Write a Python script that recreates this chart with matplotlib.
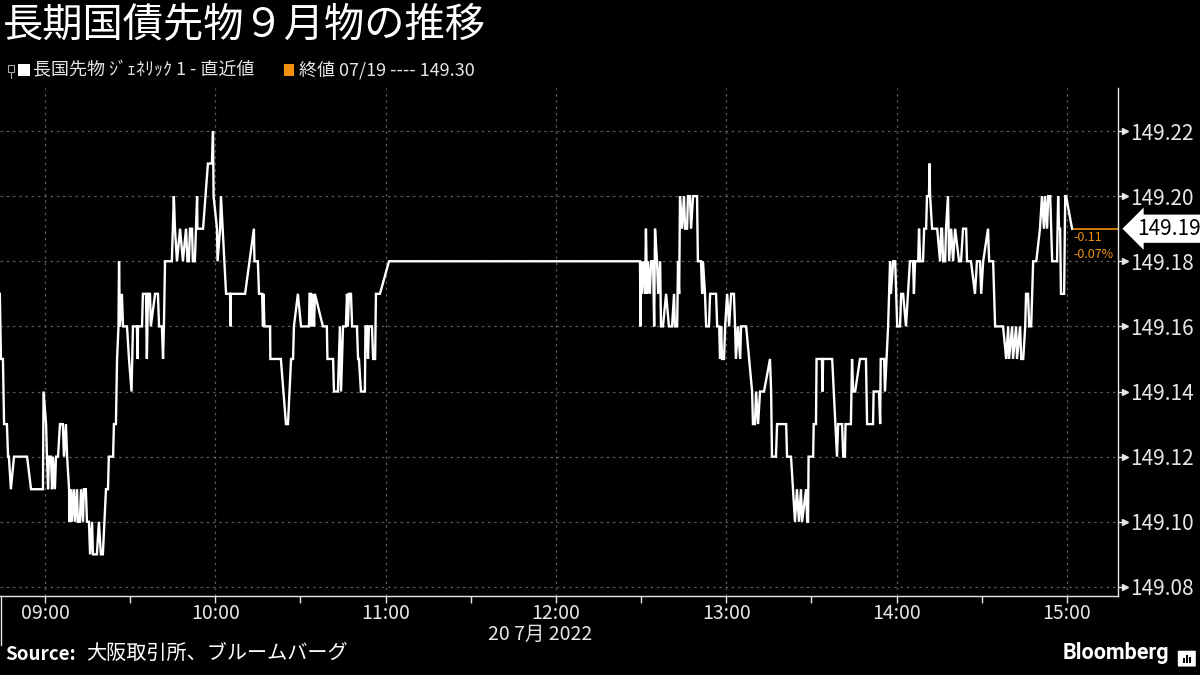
import pandas as pd
import matplotlib
matplotlib.use('Agg')
import matplotlib.pyplot as plt
import matplotlib.dates as mdates
from matplotlib.lines import Line2D
from matplotlib.patches import Rectangle, FancyBboxPatch
from matplotlib.ticker import FixedLocator, FuncFormatter
from matplotlib.transforms import blended_transform_factory, offset_copy

plt.rcParams['font.family'] = ['Noto Sans CJK JP', 'DejaVu Sans']

# chart text
TITLE = '長期国債先物９月物の推移'
SERIES_LABEL = '長国先物 ｼﾞｪﾈﾘｯｸ 1 - 直近値'
CLOSE_LABEL = '終値 07/19 ---- 149.30'
DATE_LABEL = '20 7月 2022'
SOURCE = '大阪取引所、ブルームバーグ'

# trade day and values (minutes after 09:00, price)
DAY = '2022-07-20'
minutes = [
    -15.9, -15.5, -14.8, -14.4, -13.4, -13.0, -12.7, -12.0, -10.9, -6.3, -4.9, -0.7, -0.5,
    0.4, 0.7, 1.1, 1.4, 2.1, 2.5, 2.8, 3.5, 3.9, 4.6, 5.3, 6.3, 6.7, 7.4, 7.8, 8.5, 8.6,
    9.2, 9.5, 10.2, 10.6, 11.3, 11.6, 12.3, 12.7, 13.4, 13.7, 14.4, 14.8, 15.5, 15.9,
    16.6, 16.9, 18.3, 19.0, 19.7, 20.4, 21.5, 22.2, 22.5, 24.0, 24.3, 25.0, 25.4, 25.9,
    26.1, 26.4, 27.1, 27.5, 28.9, 29.6, 30.5, 31.0, 32.4, 32.6, 32.8, 34.2, 34.5, 35.6,
    35.9, 36.3, 37.0, 37.3, 38.8, 39.8, 40.2, 41.2, 41.6, 41.9, 42.3, 44.7, 45.4, 45.8,
    46.5, 47.6, 48.6, 49.7, 50.2, 50.7, 51.1, 51.8, 52.1, 52.8, 53.2, 53.6, 53.7, 55.7,
    57.4, 58.8, 59.2, 59.4, 60.6, 60.8, 61.7, 62.0, 63.8, 65.2, 65.4, 65.5, 70.5, 73.6,
    73.8, 75.0, 75.4, 76.5, 76.8, 77.0, 77.3, 79.3, 79.4, 83.1, 84.9, 85.6, 86.7, 87.4,
    87.7, 89.1, 90.2, 93.0, 93.2, 93.7, 93.9, 94.4, 94.8, 95.1, 97.9, 99.3, 99.5, 101.5,
    101.8, 103.2, 103.9, 104.3, 105.0, 106.0, 106.4, 106.7, 107.1, 107.8, 108.2, 109.9,
    110.3, 110.6, 111.3, 112.7, 112.9, 113.4, 113.8, 114.1, 115.2, 115.6, 116.3, 116.6,
    118.0, 121.2,
    209.6, 209.8, 210.0, 210.3, 211.0, 211.4, 211.7, 212.1, 212.4, 213.1, 213.5, 214.2,
    214.6, 214.9, 215.6, 216.0, 216.7, 217.0, 217.7, 218.8, 219.8, 220.9, 221.6, 221.9,
    222.7, 223.0, 223.4, 223.7, 224.4, 225.1, 225.5, 226.2, 226.5, 227.2, 227.6, 228.3,
    229.7, 230.0, 231.1, 231.5, 231.8, 232.5, 232.9, 233.9, 234.3, 236.4, 236.8, 237.5,
    237.8, 238.2, 238.5, 239.2, 239.6, 240.3, 241.0, 241.7, 242.7, 243.1, 243.4, 244.1,
    244.9, 245.2, 247.0, 249.1, 249.4, 250.1, 250.5, 251.2, 251.9, 253.3, 255.4, 255.8,
    256.1, 257.5, 257.9, 261.1, 261.4, 262.8, 263.5, 264.2, 264.9, 265.6, 266.3, 266.7,
    268.1, 268.5, 268.8, 269.0, 270.6, 270.8, 271.6, 271.8, 273.7, 273.9, 274.1, 277.3,
    279.0, 279.4, 280.8, 281.2, 281.8, 282.0, 283.9, 284.3, 284.7, 285.4, 287.1, 289.2,
    289.6, 291.7, 291.9, 293.8, 294.2, 294.4, 295.6, 295.9, 297.0,
    297.7, 298.0, 298.8, 299.5, 300.2, 301.2, 301.6, 302.3, 303.3, 304.0, 304.7, 305.8,
    306.1, 306.5, 307.6, 307.9, 308.3, 309.3, 309.7, 310.4, 310.7, 311.4, 311.6, 311.8,
    312.5, 314.3, 315.3, 315.7, 316.0, 316.4, 317.1, 317.4, 318.1, 318.5, 319.2, 319.9,
    320.6, 322.0, 322.7, 323.4, 324.5, 324.8, 326.2, 327.6, 328.3, 329.4, 329.8, 330.5,
    332.2, 332.6, 334.0, 334.7, 337.5, 338.6, 339.3, 339.6, 340.7, 341.0, 342.1, 342.4,
    343.5, 343.9, 344.6, 345.3, 345.6, 346.3, 346.7, 347.4, 348.1, 349.2, 350.5, 351.2,
    351.9, 352.3, 353.0, 353.4, 354.1, 354.8, 356.5, 356.9, 357.2, 357.6, 357.9, 359.0,
    359.4, 359.7, 361.8,
]
prices = [
    149.17, 149.15, 149.15, 149.13, 149.13, 149.12, 149.12, 149.11, 149.12, 149.12, 149.11, 149.11, 149.14,
    149.13, 149.12, 149.11, 149.12, 149.12, 149.11, 149.12, 149.11, 149.12, 149.12, 149.13, 149.13, 149.12, 149.13, 149.12, 149.11, 149.10,
    149.11, 149.10, 149.11, 149.10, 149.11, 149.10, 149.10, 149.11, 149.10, 149.11, 149.11, 149.10, 149.10, 149.09,
    149.10, 149.09, 149.09, 149.10, 149.09, 149.09, 149.11, 149.11, 149.12, 149.12, 149.13, 149.13, 149.15, 149.16,
    149.18, 149.16, 149.17, 149.16, 149.16, 149.15, 149.14, 149.16, 149.16, 149.15, 149.16, 149.16, 149.17, 149.17,
    149.15, 149.17, 149.17, 149.16, 149.17, 149.17, 149.16, 149.16, 149.15, 149.16, 149.18, 149.18, 149.20, 149.19,
    149.18, 149.19, 149.18, 149.19, 149.18, 149.18, 149.19, 149.19, 149.18, 149.18, 149.19, 149.20, 149.19, 149.19,
    149.21, 149.21, 149.22, 149.20, 149.19, 149.18, 149.19, 149.20, 149.17, 149.17, 149.16, 149.17, 149.17, 149.19,
    149.18, 149.18, 149.17, 149.17, 149.16, 149.17, 149.16, 149.16, 149.15, 149.15, 149.13, 149.13, 149.15, 149.15,
    149.16, 149.17, 149.16, 149.16, 149.17, 149.17, 149.16, 149.17, 149.16, 149.17, 149.16, 149.16, 149.15, 149.15,
    149.14, 149.14, 149.16, 149.14, 149.16, 149.16, 149.17, 149.16, 149.17, 149.17, 149.16, 149.16,
    149.15, 149.15, 149.14, 149.14, 149.16, 149.16, 149.15, 149.16, 149.16, 149.15, 149.15, 149.17,
    149.17, 149.18,
    149.18, 149.16, 149.18, 149.17, 149.18, 149.17, 149.19, 149.17, 149.18, 149.17, 149.18, 149.18,
    149.16, 149.19, 149.18, 149.17, 149.18, 149.16, 149.16, 149.17, 149.16, 149.16, 149.17, 149.16,
    149.16, 149.18, 149.17, 149.20, 149.19, 149.20, 149.19, 149.19, 149.20, 149.20, 149.19, 149.20,
    149.20, 149.18, 149.18, 149.17, 149.18, 149.17, 149.16, 149.16, 149.17, 149.17, 149.16, 149.16,
    149.15, 149.16, 149.15, 149.15, 149.16, 149.17, 149.16, 149.17, 149.17, 149.16, 149.15, 149.16,
    149.15, 149.16, 149.16, 149.14, 149.13, 149.13, 149.14, 149.13, 149.14, 149.14, 149.15, 149.14,
    149.12, 149.12, 149.13, 149.13, 149.12, 149.12, 149.11, 149.10, 149.11, 149.10, 149.11, 149.10,
    149.11, 149.10, 149.10, 149.12, 149.12, 149.13, 149.13, 149.15, 149.15, 149.14, 149.15, 149.15,
    149.12, 149.13, 149.13, 149.12, 149.12, 149.13, 149.13, 149.15, 149.14, 149.14, 149.15, 149.15,
    149.13, 149.13, 149.14, 149.14, 149.13, 149.15, 149.15, 149.14, 149.16,
    149.18, 149.17, 149.18, 149.18, 149.16, 149.16, 149.17, 149.17, 149.16, 149.17, 149.18, 149.18,
    149.17, 149.18, 149.18, 149.19, 149.18, 149.18, 149.19, 149.19, 149.20, 149.20, 149.21, 149.20,
    149.19, 149.19, 149.18, 149.19, 149.19, 149.18, 149.18, 149.19, 149.20, 149.18, 149.19, 149.18,
    149.19, 149.18, 149.18, 149.19, 149.19, 149.18, 149.18, 149.17, 149.18, 149.18, 149.17, 149.18,
    149.19, 149.18, 149.18, 149.16, 149.16, 149.15, 149.16, 149.15, 149.16, 149.15, 149.16, 149.15,
    149.16, 149.15, 149.15, 149.16, 149.17, 149.17, 149.16, 149.16, 149.18, 149.18, 149.19, 149.20,
    149.19, 149.20, 149.19, 149.20, 149.20, 149.18, 149.18, 149.20, 149.19, 149.19, 149.17, 149.17,
    149.20, 149.20, 149.19,
]
y_ticks = [149.08, 149.10, 149.12, 149.14, 149.16, 149.18, 149.20, 149.22]
last_change = '-0.11'
last_change_pct = '-0.07%'

BG = '#000000'
FG = '#e6e6e6'
GRID = '#5a5a5a'
ORANGE = '#f0900c'

times = pd.Timestamp(DAY + ' 09:00') + pd.to_timedelta(minutes, unit='min')
last_t, last_v = times[-1], prices[-1]

fig = plt.figure(figsize=(12, 6.75), dpi=100, facecolor=BG)
ax = fig.add_axes([0.0, 0.117, 0.9317, 0.7526], facecolor=BG)

ax.plot(times, prices, color='white', lw=1.7, solid_joinstyle='miter', zorder=3)
ax.plot([last_t, pd.Timestamp(DAY + ' 15:18')], [last_v, last_v], color=ORANGE, lw=1.2, zorder=2)

ax.set_xlim(pd.Timestamp(DAY + ' 08:44:10'), pd.Timestamp(DAY + ' 15:18'))
ax.set_ylim(149.0772, 149.2332)

# x axis: hour labels, half-hour ticks
ax.xaxis.set_major_locator(mdates.HourLocator())
ax.xaxis.set_major_formatter(mdates.DateFormatter('%H:%M'))
ax.xaxis.set_minor_locator(mdates.MinuteLocator(byminute=[30]))
ax.tick_params(axis='x', which='both', colors=FG, length=5, width=1, pad=0, labelsize=14)

# y axis on the right
ax.yaxis.tick_right()
ax.yaxis.set_major_locator(FixedLocator(y_ticks))
ax.yaxis.set_major_formatter(FuncFormatter(lambda v, p: '%.2f' % v))
ax.tick_params(axis='y', colors=FG, length=6, width=1, pad=3, labelsize=15)
arrow_tr = offset_copy(blended_transform_factory(ax.transAxes, ax.transData), fig=fig, x=7, units='dots')
ax.plot([1.0] * len(y_ticks), y_ticks, ls='none', marker='>', ms=4.5, color=FG,
        transform=arrow_tr, clip_on=False, zorder=4)

ax.grid(True, which='major', color=GRID, ls=(0, (2, 3)), lw=0.9)
for side in ['left', 'top']:
    ax.spines[side].set_visible(False)
for side in ['right', 'bottom']:
    ax.spines[side].set_color(FG)
    ax.spines[side].set_linewidth(1)

# last value tag and change
ax.annotate('%.2f' % last_v, xy=(1.0, last_v), xycoords=('axes fraction', 'data'),
            xytext=(14, 0), textcoords='offset points', ha='left', va='center',
            fontsize=15, color='black',
            bbox=dict(boxstyle='larrow,pad=0.15', fc='white', ec='none'), zorder=5)
ax.annotate(last_change, xy=(last_t, last_v), xytext=(1, -2), textcoords='offset points',
            ha='left', va='top', fontsize=9, color=ORANGE)
ax.annotate(last_change_pct, xy=(last_t, last_v), xytext=(1, -14), textcoords='offset points',
            ha='left', va='top', fontsize=9, color=ORANGE)

# title and legend
fig.text(0.002, 0.962, TITLE, fontsize=29, color='white', va='center', ha='left')
fig.patches.append(Rectangle((0.0068, 0.8935), 0.005, 0.0105, transform=fig.transFigure,
                             fc='none', ec='#aaaaaa', lw=0.8))
fig.add_artist(Line2D([0.0093, 0.0093], [0.8845, 0.8935], color='#aaaaaa', lw=0.8))
fig.patches.append(Rectangle((0.015, 0.8874), 0.010, 0.0178, transform=fig.transFigure, fc='white', ec='none'))
fig.text(0.0275, 0.896, SERIES_LABEL, fontsize=13, color=FG, va='center')
fig.patches.append(Rectangle((0.2365, 0.8874), 0.0085, 0.0178, transform=fig.transFigure, fc=ORANGE, ec='none'))
fig.text(0.249, 0.896, CLOSE_LABEL, fontsize=13, color=FG, va='center')

# date under the axis and left edge line
fig.text(540 / 1200, 1 - 634 / 675, DATE_LABEL, fontsize=14, color=FG, ha='center', va='center')
fig.add_artist(Line2D([0.0008, 0.0008], [1 - 645 / 675, 0.117], color=FG, lw=1))

# footer
fig.text(0.004, 0.017, 'Source:', fontsize=13.5, color='white', weight='bold', va='bottom')
fig.text(0.072, 0.017, SOURCE, fontsize=14.5, color='white', va='bottom')
fig.text(0.974, 0.016, 'Bloomberg', fontsize=15.5, color='white', weight='bold', va='bottom', ha='right',
         family=['Roboto', 'DejaVu Sans'])
fig.patches.append(FancyBboxPatch((0.9825, 0.0135), 0.0130, 0.0215, boxstyle='round,pad=0.001',
                                  transform=fig.transFigure, fc='white', ec='none'))
for bx, bh in [(0.9862, 0.007), (0.9885, 0.012), (0.9908, 0.009)]:
    fig.patches.append(Rectangle((bx, 0.018), 0.0013, bh, transform=fig.transFigure, fc='black', ec='none'))

fig.savefig('out.png', dpi=100, facecolor=BG)
